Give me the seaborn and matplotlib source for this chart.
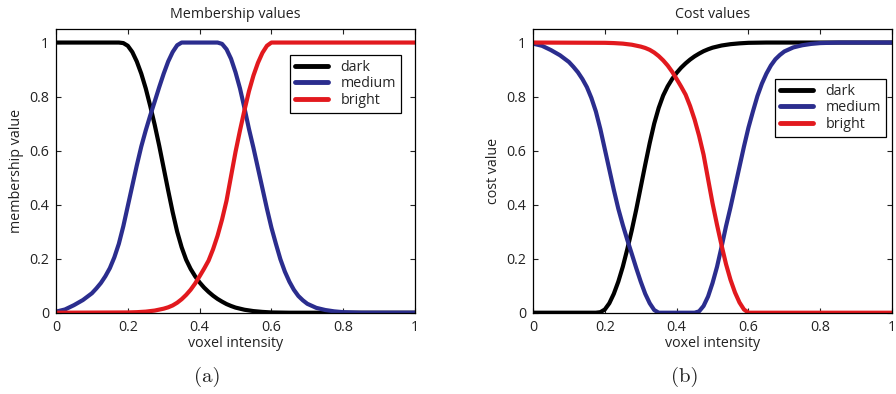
import matplotlib
matplotlib.use("Agg")
import matplotlib.pyplot as plt
import seaborn as sns
import pandas as pd

# ---------------- data ----------------
# x positions of the samples for each class (denser where the curves bend)
x_dark = [0.0, 0.175, 0.1875, 0.2, 0.2125, 0.225, 0.2375, 0.25, 0.2625, 0.275,
          0.2875, 0.3, 0.3125, 0.325, 0.3375, 0.35, 0.3625, 0.375, 0.3875, 0.4,
          0.4125, 0.425, 0.4375, 0.45, 0.4625, 0.475, 0.4875, 0.5, 0.525, 0.55,
          0.575, 0.6, 0.65, 1.0]
x_medium = [0.0, 0.025, 0.05, 0.075, 0.1, 0.1125, 0.125, 0.1375, 0.15, 0.1625,
            0.175, 0.1875, 0.2, 0.2125, 0.225, 0.2375, 0.25, 0.2625, 0.275, 0.2875,
            0.3, 0.3125, 0.325, 0.3375, 0.35, 0.45, 0.4625, 0.475, 0.4875, 0.5,
            0.5125, 0.525, 0.5375, 0.55, 0.5625, 0.575, 0.5875, 0.6, 0.6125, 0.625,
            0.6375, 0.65, 0.6625, 0.675, 0.6875, 0.7, 0.725, 0.75, 0.775, 0.8,
            0.85, 1.0]
x_bright = [0.0, 0.2, 0.225, 0.25, 0.275, 0.3, 0.3125, 0.325, 0.3375, 0.35,
            0.3625, 0.375, 0.3875, 0.4, 0.4125, 0.425, 0.4375, 0.45, 0.4625, 0.475,
            0.4875, 0.5, 0.5125, 0.525, 0.5375, 0.55, 0.5625, 0.575, 0.5875, 0.6,
            1.0]

# (a) membership values
member_dark = [1.0, 1.0, 0.998, 0.988, 0.965, 0.93, 0.885, 0.83, 0.765, 0.695,
               0.618, 0.535, 0.452, 0.372, 0.30, 0.242, 0.196, 0.162, 0.135, 0.112,
               0.093, 0.077, 0.063, 0.051, 0.041, 0.032, 0.025, 0.019, 0.011, 0.006,
               0.003, 0.001, 0.0, 0.0]
member_medium = [0.004, 0.012, 0.028, 0.047, 0.072, 0.09, 0.11, 0.135, 0.165, 0.205,
                 0.255, 0.32, 0.395, 0.47, 0.545, 0.615, 0.675, 0.73, 0.782, 0.835,
                 0.885, 0.93, 0.965, 0.99, 1.0, 1.0, 0.995, 0.975, 0.94, 0.89,
                 0.83, 0.757, 0.68, 0.61, 0.535, 0.46, 0.385, 0.315, 0.255, 0.198,
                 0.152, 0.115, 0.085, 0.062, 0.046, 0.033, 0.018, 0.01, 0.005, 0.002,
                 0.0, 0.0]
member_bright = [0.0, 0.001, 0.002, 0.004, 0.008, 0.015, 0.02, 0.027, 0.037, 0.05,
                 0.066, 0.085, 0.108, 0.135, 0.163, 0.193, 0.235, 0.285, 0.345, 0.415,
                 0.505, 0.595, 0.675, 0.75, 0.82, 0.878, 0.925, 0.962, 0.988, 1.0,
                 1.0]

# (b) cost values
cost_dark = [0.0, 0.0, 0.002, 0.012, 0.035, 0.07, 0.115, 0.17, 0.235, 0.305,
             0.382, 0.465, 0.548, 0.628, 0.70, 0.758, 0.804, 0.838, 0.865, 0.888,
             0.907, 0.923, 0.937, 0.949, 0.959, 0.968, 0.975, 0.981, 0.989, 0.994,
             0.997, 0.999, 1.0, 1.0]
cost_medium = [0.996, 0.988, 0.972, 0.953, 0.928, 0.91, 0.89, 0.865, 0.835, 0.795,
               0.745, 0.68, 0.605, 0.53, 0.455, 0.385, 0.325, 0.27, 0.218, 0.165,
               0.115, 0.07, 0.035, 0.01, 0.0, 0.0, 0.005, 0.025, 0.06, 0.11,
               0.17, 0.243, 0.32, 0.39, 0.465, 0.54, 0.615, 0.685, 0.745, 0.802,
               0.848, 0.885, 0.915, 0.938, 0.954, 0.967, 0.982, 0.99, 0.995, 0.998,
               1.0, 1.0]
cost_bright = [1.0, 0.999, 0.998, 0.996, 0.992, 0.985, 0.98, 0.973, 0.963, 0.95,
               0.934, 0.915, 0.892, 0.865, 0.837, 0.807, 0.765, 0.715, 0.655, 0.585,
               0.495, 0.405, 0.325, 0.25, 0.18, 0.122, 0.075, 0.038, 0.012, 0.0,
               0.0]

series_names = ["dark", "medium", "bright"]
series_x = [x_dark, x_medium, x_bright]
series_colors = ["#000000", "#2B2D8E", "#E2191E"]
x_ticks = [0, 0.2, 0.4, 0.6, 0.8, 1]
x_tick_labels = ["0", "0.2", "0.4", "0.6", "0.8", "1"]
y_ticks = [0, 0.2, 0.4, 0.6, 0.8, 1]
y_tick_labels = ["0", "0.2", "0.4", "0.6", "0.8", "1"]

panels = [
    {"title": "Membership values", "ylabel": "membership value", "tag": "(a)",
     "values": [member_dark, member_medium, member_bright]},
    {"title": "Cost values", "ylabel": "cost value", "tag": "(b)",
     "values": [cost_dark, cost_medium, cost_bright]},
]

# ---------------- style ----------------
sns.set_style("ticks")
plt.rcParams["font.family"] = ["Open Sans", "DejaVu Sans"]
plt.rcParams["font.size"] = 10

FS = 10.3
TXT = "#222222"

fig = plt.figure(figsize=(8.96, 3.94), dpi=100)
axes_rects = [[0.0625, 0.2063, 0.4007, 0.72], [0.5949, 0.2063, 0.4007, 0.72]]
legend_anchor = [(0.960, 0.908), (0.982, 0.824)]
tag_x = [207 / 896, 685 / 896]

for i, p in enumerate(panels):
    ax = fig.add_axes(axes_rects[i])
    frames = []
    for name, xs, vals in zip(series_names, series_x, p["values"]):
        frames.append(pd.DataFrame({"intensity": xs, "value": vals, "class": name}))
    df = pd.concat(frames, ignore_index=True)
    sns.lineplot(data=df, x="intensity", y="value", hue="class",
                 hue_order=series_names, palette=series_colors,
                 linewidth=3.0, ax=ax, sort=True, estimator=None)
    ax.set_xlim(0, 1)
    ax.set_ylim(0, 1.05)
    ax.set_xticks(x_ticks)
    ax.set_xticklabels(x_tick_labels)
    ax.set_yticks(y_ticks)
    ax.set_yticklabels(y_tick_labels)
    ax.tick_params(direction="in", length=3.5, width=0.8, top=True, right=True,
                   labelsize=FS, colors=TXT, pad=5)
    for s in ax.spines.values():
        s.set_visible(True)
        s.set_linewidth(0.9)
        s.set_color("black")
    ax.set_title(p["title"], fontsize=FS, pad=8, color=TXT)
    ax.set_xlabel("voxel intensity", fontsize=FS, labelpad=1, color=TXT)
    ax.set_ylabel(p["ylabel"], fontsize=FS, labelpad=4, color=TXT)
    leg = ax.legend(loc="upper right", bbox_to_anchor=legend_anchor[i],
                    frameon=True, fancybox=False, shadow=False, framealpha=1,
                    edgecolor="black", fontsize=FS, handlelength=2.3,
                    handletextpad=0.9, borderpad=0.32, labelspacing=0.12,
                    borderaxespad=0.0)
    leg.get_frame().set_linewidth(0.9)
    for line in leg.get_lines():
        line.set_linewidth(3.5)
    fig.text(tag_x[i], 1 - 377 / 394, p["tag"], ha="center", va="center",
             fontsize=15, family=["cmr10", "DejaVu Serif"], color=TXT)

fig.savefig("out.png", dpi=100)
